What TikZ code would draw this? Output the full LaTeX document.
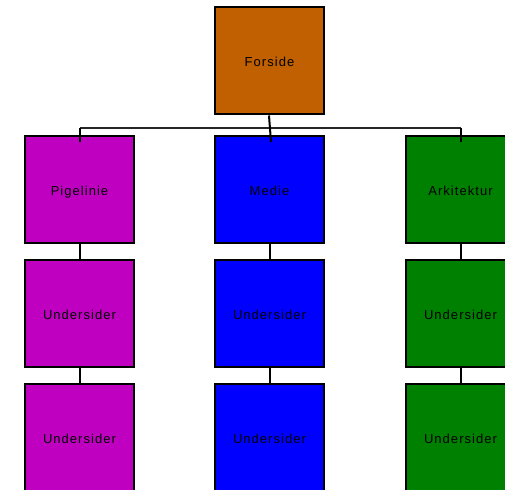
\documentclass[tikz,border=0pt]{standalone}
\usepackage{fontspec}
\setmainfont{Liberation Sans}[LetterSpace=8]
\definecolor{cforside}{RGB}{192,96,0}
\definecolor{cpige}{RGB}{192,0,192}
\definecolor{cmedie}{RGB}{0,0,255}
\definecolor{cark}{RGB}{0,128,0}
\begin{document}
\begin{tikzpicture}[x=1pt,y=-1pt,
  box/.style={draw=black,line width=2pt,minimum width=109pt,minimum height=107pt,inner sep=0pt,font=\fontsize{13}{15}\selectfont,text=black,text height=12pt,text depth=0pt},
  conn/.style={draw=black,line width=2pt},
  bus/.style={draw=black!85,line width=1.3pt}]
\useasboundingbox (0,0) rectangle (505,489);
\clip (0,0) rectangle (505,489);
\node[box,fill=cforside] (f) at (269.5,61) {Forside};
\node[box,fill=cpige] (p1) at (79.5,189.5) {Pigelinie};
\node[box,fill=cpige] (p2) at (79.5,313.5) {Undersider};
\node[box,fill=cpige] (p3) at (79.5,437.5) {Undersider};
\node[box,fill=cmedie] (m1) at (269.5,189.5) {Medie};
\node[box,fill=cmedie] (m2) at (269.5,313.5) {Undersider};
\node[box,fill=cmedie] (m3) at (269.5,437.5) {Undersider};
\node[box,fill=cark] (a1) at (460.5,189.5) {Arkitektur};
\node[box,fill=cark] (a2) at (460.5,313.5) {Undersider};
\node[box,fill=cark] (a3) at (460.5,437.5) {Undersider};
\coordinate (busL) at (80,128);
\coordinate (busR) at (461,128);
\draw[bus] (busL) -- (busR);
\draw[conn] (busL) -- ([yshift=-7pt]p1.north -| busL);
\draw[conn] (busR) -- ([yshift=-7pt]a1.north -| busR);
\draw[conn] ([xshift=-0.5pt]f.south) -- ([xshift=1.5pt,yshift=-7pt]m1.north);
\draw[conn] (p1.south) -- (p2.north);
\draw[conn] (p2.south) -- (p3.north);
\draw[conn] (m1.south) -- (m2.north);
\draw[conn] (m2.south) -- (m3.north);
\draw[conn] (a1.south) -- (a2.north);
\draw[conn] (a2.south) -- (a3.north);
\end{tikzpicture}
\end{document}
